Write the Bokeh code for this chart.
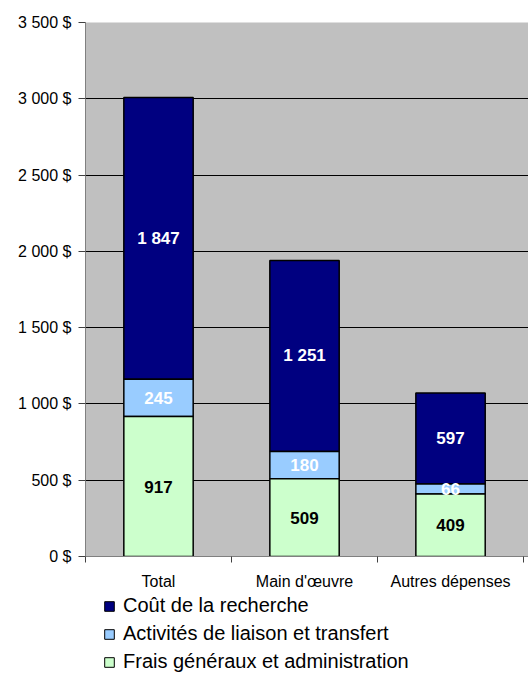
from bokeh.plotting import figure
from bokeh.models import ColumnDataSource, FixedTicker, Legend, LegendItem
from bokeh.layouts import column
from bokeh.core.properties import value
from bokeh.embed import file_html
from bokeh.resources import INLINE

categories = ["Total", "Main d'œuvre", "Autres dépenses"]
frais = [917, 509, 409]
liaison = [245, 180, 66]
recherche = [1847, 1251, 597]
series_names = ["Coût de la recherche", "Activités de liaison et transfert", "Frais généraux et administration"]
series_colors = ["#000080", "#99CCFF", "#CCFFCC"]
y_ticks = [0, 500, 1000, 1500, 2000, 2500, 3000, 3500]
y_tick_labels = ["0 $", "500 $", "1 000 $", "1 500 $", "2 000 $", "2 500 $", "3 000 $", "3 500 $"]

FONT = "Liberation Sans"
xs = [i + 0.5 for i in range(len(categories))]
b1 = [0] * 3
t1 = frais
b2 = t1
t2 = [a + b for a, b in zip(t1, liaison)]
b3 = t2
t3 = [a + b for a, b in zip(t2, recherche)]

src = ColumnDataSource(dict(x=xs, b1=b1, t1=t1, b2=b2, t2=t2, b3=b3, t3=t3,
                            m1=[(a + b) / 2 for a, b in zip(b1, t1)],
                            m2=[(a + b) / 2 for a, b in zip(b2, t2)],
                            m3=[(a + b) / 2 for a, b in zip(b3, t3)],
                            l1=[str(v) for v in frais],
                            l2=[str(v) for v in liaison],
                            l3=[f"{v:,}".replace(",", " ") for v in recherche]))

p = figure(width=528, height=595, x_range=(0, 3.034), y_range=(0, 3500),
           output_backend="svg", toolbar_location=None,
           min_border_left=85, min_border_right=0, min_border_top=22, min_border_bottom=39,
           background_fill_color="#C0C0C0", border_fill_color="white", outline_line_color=None)

w = 0.475
p.vbar(x="x", bottom="b3", top="t3", width=w, source=src, fill_color=series_colors[0], line_color="black", line_width=1.5)
p.vbar(x="x", bottom="b2", top="t2", width=w, source=src, fill_color=series_colors[1], line_color="black", line_width=1.5)
p.vbar(x="x", bottom="b1", top="t1", width=w, source=src, fill_color=series_colors[2], line_color="black", line_width=1.5)

common = dict(source=src, text_font=value(FONT), text_font_size="17px", text_font_style="bold",
              text_align="center", text_baseline="middle")
p.text(x="x", y="m1", text="l1", text_color="black", **common)
p.text(x="x", y="m2", text="l2", text_color="white", **common)
p.text(x="x", y="m3", text="l3", text_color="white", **common)

# axes
p.yaxis.ticker = FixedTicker(ticks=y_ticks)
p.yaxis.major_label_overrides = {t: l for t, l in zip(y_ticks, y_tick_labels)}
p.yaxis.major_label_text_font = FONT
p.yaxis.major_label_text_font_size = "16px"
p.yaxis.major_label_text_color = "black"
p.yaxis.major_tick_out = 7
p.yaxis.major_tick_in = 0
p.yaxis.minor_tick_line_color = None
p.yaxis.axis_line_color = "#808080"
p.yaxis.major_tick_line_color = "#404040"
p.yaxis.major_label_standoff = 7

p.xaxis.ticker = FixedTicker(ticks=xs, minor_ticks=[0, 1, 2, 3])
p.xaxis.major_label_overrides = {x: c for x, c in zip(xs, categories)}
p.xaxis.major_label_text_font = FONT
p.xaxis.major_label_text_font_size = "16px"
p.xaxis.major_label_text_color = "black"
p.xaxis.major_tick_line_color = None
p.xaxis.major_tick_out = 6
p.xaxis.minor_tick_out = 6
p.xaxis.minor_tick_in = 0
p.xaxis.minor_tick_line_color = "#404040"
p.xaxis.axis_line_color = "#808080"
p.xaxis.major_label_standoff = 10

p.xgrid.grid_line_color = None
p.ygrid.ticker = FixedTicker(ticks=y_ticks[1:-1])
p.ygrid.grid_line_color = "black"
p.ygrid.grid_line_width = 1

# legend figure
p2 = figure(width=528, height=78, x_range=(0, 1), y_range=(0, 1),
            output_backend="svg", toolbar_location=None,
            x_axis_location=None, y_axis_location=None,
            min_border_left=85, min_border_right=0, min_border_top=0, min_border_bottom=0,
            outline_line_color=None)
p2.grid.grid_line_color = None
items = []
for name, col in zip(series_names, series_colors):
    dummy = ColumnDataSource(dict(x=[-10], top=[-10]))
    r = p2.vbar(x="x", top="top", width=0.1, source=dummy, fill_color=col, line_color="black", line_width=1)
    items.append(LegendItem(label=name, renderers=[r]))
legend = Legend(items=items, location=(18, 0), orientation="vertical",
                label_text_font=FONT, label_text_font_size="20px", label_text_color="black",
                glyph_width=12, glyph_height=12, label_standoff=8, spacing=5,
                padding=0, margin=0, border_line_color=None, background_fill_alpha=0,
                label_height=22)
p2.add_layout(legend, "center")

open("out.html", "w").write(file_html(column(p, p2), INLINE))
